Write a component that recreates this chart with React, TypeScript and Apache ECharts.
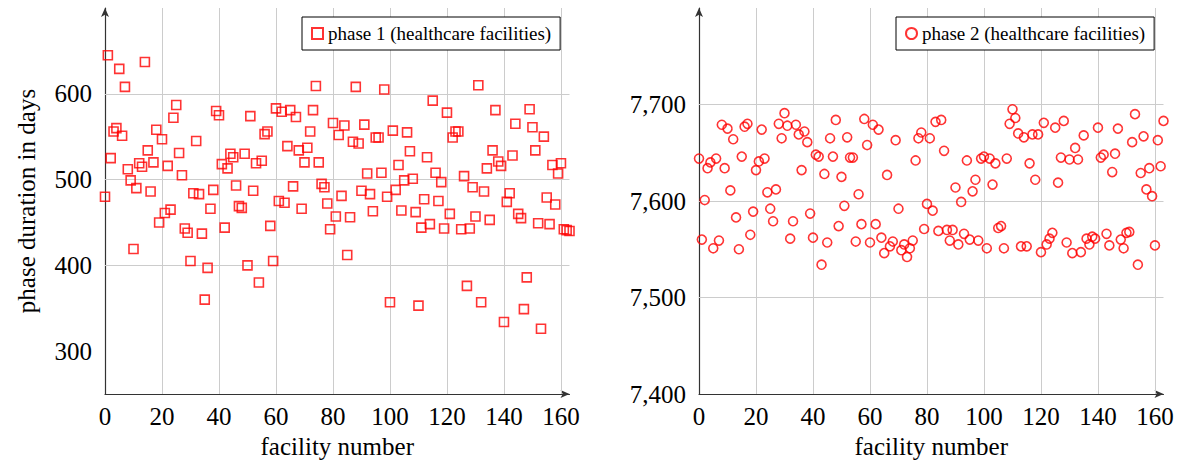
import React, { useEffect, useRef } from 'react';
import * as echarts from 'echarts';

// phase 1 durations (days), facility number = array index
const phase1Days = [
  480, 645, 525, 556, 560, 629, 551, 608, 512, 499, 419, 490, 519, 515, 637, 534, 486, 520, 558, 450,
  547, 461, 516, 465, 572, 587, 531, 505, 443, 438, 405,
  484, 545, 483, 437, 360, 397, 466, 488, 580, 575, 518, 444, 513, 530, 526, 493, 469, 467, 530, 400,
  574, 487, 519, 380, 522, 553, 556, 446, 405, 583, 475, 579, 473,
  539, 581, 492, 573, 534, 466, 520, 537, 556, 581, 609, 520, 495, 491, 472, 442, 566, 457, 552, 481,
  563, 412, 456, 544, 608, 542, 487, 564, 507, 483, 463, 549, 549, 508,
  605, 480, 357, 557, 488, 517, 464, 499, 555, 533, 501, 462, 353, 444, 477, 526, 448, 592, 508, 475,
  497, 443, 578, 460, 549, 556, 556, 442, 504, 376, 443, 491, 457,
  610, 357, 486, 513, 453, 534, 581, 521, 516, 334, 474, 484, 528, 565, 460, 455, 349, 386, 582, 561,
  534, 449, 326, 550, 479, 448, 517, 471, 507, 519, 442, 441, 440,
];

// phase 2 durations (days), facility number = array index
const phase2Days = [
  7644, 7560, 7601, 7634, 7640, 7551, 7644, 7559, 7679, 7634, 7675, 7611, 7664, 7583, 7550, 7646,
  7677, 7680, 7565, 7589, 7632, 7641, 7674, 7644, 7609, 7592, 7579, 7612, 7680, 7665, 7691,
  7678, 7561, 7579, 7679, 7669, 7632, 7672, 7661, 7587, 7562, 7648, 7646, 7534, 7628, 7557, 7665,
  7646, 7684, 7574, 7625, 7595, 7666, 7645, 7645, 7558, 7607, 7576, 7685, 7658, 7557, 7679, 7576,
  7674, 7562,
  7546, 7627, 7553, 7558, 7663, 7592, 7549, 7555, 7542, 7551, 7559, 7642, 7665, 7671, 7571, 7597,
  7665, 7590, 7682, 7569, 7684, 7652, 7570, 7559, 7570, 7614, 7555, 7599, 7566, 7642, 7560, 7610,
  7622,
  7559, 7644, 7646, 7551, 7644, 7617, 7639, 7572, 7574, 7551, 7644, 7680, 7695, 7686, 7670, 7553,
  7666, 7553, 7639, 7669, 7622, 7669,
  7547, 7681, 7555, 7561, 7567, 7676, 7619, 7645, 7683, 7557, 7643, 7546, 7655, 7643, 7547, 7668,
  7561, 7555, 7563, 7561, 7676, 7645, 7648, 7566, 7554, 7630, 7649, 7675, 7560, 7551, 7567, 7568,
  7661, 7690, 7534, 7629, 7667, 7612, 7634, 7605, 7554, 7663, 7636, 7683,
];

const xTicks = [0, 20, 40, 60, 80, 100, 120, 140, 160];
const leftYTicks = [300, 400, 500, 600];
const rightYTicks = [7400, 7500, 7600, 7700];

const series1Name = 'phase 1 (healthcare facilities)';
const series2Name = 'phase 2 (healthcare facilities)';
const xAxisTitle = 'facility number';
const yAxisTitle = 'phase duration in days';

const FONT = "'Liberation Serif', 'Times New Roman', 'DejaVu Serif', serif";
const RED = '#ff0000';
const GRID_COLOR = '#cccccc';
const AXIS_COLOR = '#333333';

function xAxisFor(gridIndex: number) {
  return {
    gridIndex,
    type: 'value',
    min: 0,
    max: 163,
    interval: 20,
    axisLine: {
      show: true,
      onZero: false,
      symbol: ['none', 'arrow'],
      symbolSize: [6, 9],
      lineStyle: { color: AXIS_COLOR, width: 1.2 },
    },
    axisTick: { show: false },
    splitLine: { show: false },
    axisLabel: {
      fontFamily: FONT,
      fontSize: 25,
      color: '#000',
      margin: 10,
      formatter: (v: number) => (xTicks.includes(v) ? String(v) : ''),
    },
    name: xAxisTitle,
    nameLocation: 'middle',
    nameGap: 40,
    nameTextStyle: { fontFamily: FONT, fontSize: 25, color: '#000' },
  };
}

function gridLines(yTicks: number[]) {
  return {
    silent: true,
    symbol: 'none',
    z: 1,
    animation: false,
    label: { show: false },
    emphasis: { disabled: true },
    lineStyle: { color: GRID_COLOR, width: 1, type: 'solid' },
    data: [
      ...xTicks.filter((v) => v > 0).map((v) => ({ xAxis: v })),
      ...yTicks.slice(1).map((v) => ({ yAxis: v })),
    ],
  };
}

const legendBase = {
  orient: 'horizontal',
  itemWidth: 11,
  itemHeight: 11,
  padding: [7, 9, 7, 9],
  borderColor: '#000',
  borderWidth: 1,
  borderRadius: 0,
  backgroundColor: '#fff',
  textStyle: { fontFamily: FONT, fontSize: 19, color: '#000' },
};

export default function App() {
  const ref = useRef<HTMLDivElement>(null);

  useEffect(() => {
    if (!ref.current) return;
    const chart = echarts.init(ref.current, undefined, { renderer: 'svg' });
    chart.setOption({
      animation: false,
      backgroundColor: '#fff',
      grid: [
        { left: 105, top: 8, width: 464.5, height: 386 },
        { left: 699, top: 8, width: 464.5, height: 386 },
      ],
      legend: [
        { ...legendBase, data: [series1Name], left: 302, top: 17 },
        { ...legendBase, data: [series2Name], left: 896, top: 17 },
      ],
      xAxis: [xAxisFor(0), xAxisFor(1)],
      yAxis: [
        {
          gridIndex: 0,
          type: 'value',
          min: 250,
          max: 700,
          interval: 50,
          axisLine: {
            show: true,
            onZero: false,
            symbol: ['none', 'arrow'],
            symbolSize: [6, 9],
            lineStyle: { color: AXIS_COLOR, width: 1.2 },
          },
          axisTick: { show: false },
          splitLine: { show: false },
          axisLabel: {
            fontFamily: FONT,
            fontSize: 25,
            color: '#000',
            margin: 13,
            formatter: (v: number) => (leftYTicks.includes(v) ? String(v) : ''),
          },
          name: yAxisTitle,
          nameLocation: 'middle',
          nameGap: 66,
          nameTextStyle: { fontFamily: FONT, fontSize: 25, color: '#000' },
        },
        {
          gridIndex: 1,
          type: 'value',
          min: 7400,
          max: 7800,
          interval: 100,
          axisLine: {
            show: true,
            onZero: false,
            symbol: ['none', 'arrow'],
            symbolSize: [6, 9],
            lineStyle: { color: AXIS_COLOR, width: 1.2 },
          },
          axisTick: { show: false },
          splitLine: { show: false },
          axisLabel: {
            fontFamily: FONT,
            fontSize: 25,
            color: '#000',
            margin: 13,
            formatter: (v: number) =>
              rightYTicks.includes(v) ? v.toLocaleString('en-US') : '',
          },
        },
      ],
      series: [
        {
          name: series1Name,
          type: 'scatter',
          xAxisIndex: 0,
          yAxisIndex: 0,
          symbol: 'rect',
          symbolSize: 9,
          itemStyle: { color: 'rgba(255,255,255,0)', borderColor: RED, borderWidth: 1.6 },
          emphasis: { disabled: true },
          data: phase1Days.map((v, i) => [i, v]),
          markLine: gridLines(leftYTicks.concat([])),
        },
        {
          name: series2Name,
          type: 'scatter',
          xAxisIndex: 1,
          yAxisIndex: 1,
          symbol: 'circle',
          symbolSize: 9,
          itemStyle: { color: 'rgba(255,255,255,0)', borderColor: RED, borderWidth: 1.6 },
          emphasis: { disabled: true },
          data: phase2Days.map((v, i) => [i, v]),
          markLine: gridLines(rightYTicks),
        },
      ],
    });
    return () => chart.dispose();
  }, []);

  return (
    <div
      ref={ref}
      style={{ position: 'fixed', left: 0, top: 0, width: 1180, height: 466, background: '#fff' }}
    />
  );
}
